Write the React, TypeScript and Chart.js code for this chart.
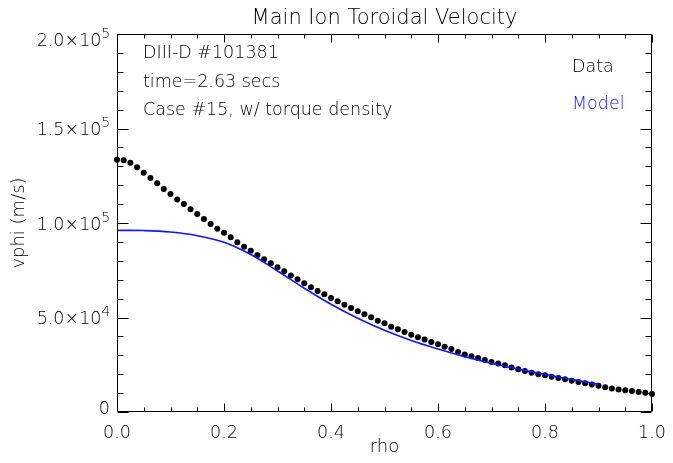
import React, { useEffect, useRef } from 'react';
import { Chart, registerables } from 'chart.js';

Chart.register(...registerables);

// ---------- data ----------
const RHO_DATA = [
  0, 0.0125, 0.025, 0.0375, 0.05, 0.0625, 0.075, 0.0875, 0.1, 0.1125,
  0.125, 0.1375, 0.15, 0.1625, 0.175, 0.1875, 0.2, 0.2125, 0.225, 0.2375,
  0.25, 0.2625, 0.275, 0.2875, 0.3, 0.3125, 0.325, 0.3375, 0.35, 0.3625,
  0.375, 0.3875, 0.4, 0.4125, 0.425, 0.4375, 0.45, 0.4625, 0.475, 0.4875,
  0.5, 0.5125, 0.525, 0.5375, 0.55, 0.5625, 0.575, 0.5875, 0.6, 0.6125,
  0.625, 0.6375, 0.65, 0.6625, 0.675, 0.6875, 0.7, 0.7125, 0.725, 0.7375,
  0.75, 0.7625, 0.775, 0.7875, 0.8, 0.8125, 0.825, 0.8375, 0.85, 0.8625,
  0.875, 0.8875, 0.9, 0.9125, 0.925, 0.9375, 0.95, 0.9625, 0.975, 0.9875,
  1.0,
];
const VPHI_DATA = [
  133500, 133200, 131900, 129500, 126600, 123800, 121000, 118000, 115300, 112500,
  110100, 107300, 104800, 102100, 99500, 97000, 94900, 92400, 89800, 87500,
  85300, 83100, 80800, 78700, 76600, 74500, 72200, 70200, 68100, 66000,
  64000, 62300, 60300, 58600, 56800, 55000, 53300, 51700, 50100, 48300,
  46900, 45100, 43800, 42300, 40900, 39500, 38300, 37000, 35800, 34500,
  33300, 31800, 30400, 29500, 28600, 27500, 26500, 25600, 24700, 23600,
  22600, 21700, 20800, 20000, 19400, 18700, 18000, 17300, 16600, 15900,
  15200, 14500, 13900, 13100, 12400, 11900, 11500, 11100, 10600, 10200,
  9500,
];
const RHO_MODEL = [0, 0.05, 0.1, 0.15, 0.2, 0.25, 0.3, 0.35, 0.4, 0.45, 0.5, 0.55, 0.6, 0.65, 0.7, 0.75, 0.8, 0.85, 0.9];
const VPHI_MODEL = [96100, 96000, 95200, 93300, 89800, 83300, 74600, 65500, 57000, 49600, 43200, 37800, 33300, 29300, 25800, 22700, 19800, 17200, 14700];

const X_TICKS = [0, 0.2, 0.4, 0.6, 0.8, 1.0];
const X_TICK_LABELS = ['0.0', '0.2', '0.4', '0.6', '0.8', '1.0'];
const X_MINOR_PER_MAJOR = 4;
const Y_TICKS = [0, 50000, 100000, 150000, 200000];
const Y_TICK_MANTISSA = ['0', '5.0×10', '1.0×10', '1.5×10', '2.0×10'];
const Y_TICK_EXPONENT = ['', '4', '5', '5', '5'];
const Y_MINOR_PER_MAJOR = 5;

const TITLE = 'Main Ion Toroidal Velocity';
const X_TITLE = 'rho';
const Y_TITLE = 'vphi (m/s)';
const INFO_LINES = ['DIII-D #101381', 'time=2.63 secs', 'Case #15, w/ torque density'];
const SERIES_NAMES = ['Data', 'Model'];

const FONT = '"DejaVu Sans", sans-serif';
const W = '200';
const TEXT = '#000';
const BLUE = '#1414ff';

const framePlugin = {
  id: 'idlFrame',
  afterDraw(chart: any) {
    const ctx: CanvasRenderingContext2D = chart.ctx;
    const { left, right, top, bottom } = chart.chartArea;
    const xs = chart.scales.x;
    const ys = chart.scales.y;
    const L = Math.round(left) + 0.5;
    const R = Math.round(right) - 0.5;
    const T = Math.round(top) + 0.5;
    const B = Math.round(bottom) - 0.5;
    ctx.save();
    ctx.strokeStyle = '#000';
    ctx.lineWidth = 1;
    ctx.beginPath();
    ctx.rect(L, T, R - L, B - T);
    ctx.stroke();

    // x ticks (bottom & top, inward)
    ctx.beginPath();
    for (let i = 0; i < X_TICKS.length; i++) {
      const v = X_TICKS[i];
      const px = Math.round(xs.getPixelForValue(v)) + 0.5;
      ctx.moveTo(px, B); ctx.lineTo(px, B - 8);
      ctx.moveTo(px, T); ctx.lineTo(px, T + 8);
      if (i < X_TICKS.length - 1) {
        const step = (X_TICKS[i + 1] - v) / X_MINOR_PER_MAJOR;
        for (let k = 1; k < X_MINOR_PER_MAJOR; k++) {
          const mx = Math.round(xs.getPixelForValue(v + k * step)) + 0.5;
          ctx.moveTo(mx, B); ctx.lineTo(mx, B - 4);
          ctx.moveTo(mx, T); ctx.lineTo(mx, T + 4);
        }
      }
    }
    // y ticks (left & right, inward)
    for (let i = 0; i < Y_TICKS.length; i++) {
      const v = Y_TICKS[i];
      const py = Math.round(ys.getPixelForValue(v)) + 0.5;
      ctx.moveTo(L, py); ctx.lineTo(L + 11, py);
      ctx.moveTo(R, py); ctx.lineTo(R - 11, py);
      if (i < Y_TICKS.length - 1) {
        const step = (Y_TICKS[i + 1] - v) / Y_MINOR_PER_MAJOR;
        for (let k = 1; k < Y_MINOR_PER_MAJOR; k++) {
          const my = Math.round(ys.getPixelForValue(v + k * step)) + 0.5;
          ctx.moveTo(L, my); ctx.lineTo(L + 6, my);
          ctx.moveTo(R, my); ctx.lineTo(R - 6, my);
        }
      }
    }
    ctx.stroke();

    ctx.fillStyle = TEXT;
    ctx.textBaseline = 'alphabetic';

    // x tick labels
    ctx.font = `${W} 17.5px ${FONT}`;
    ctx.textAlign = 'center';
    for (let i = 0; i < X_TICKS.length; i++) {
      const px = xs.getPixelForValue(X_TICKS[i]);
      ctx.fillText(X_TICK_LABELS[i], px, bottom + 26);
    }

    // y tick labels with superscript exponent
    const labelRight = left - 7;
    for (let i = 0; i < Y_TICKS.length; i++) {
      const py = ys.getPixelForValue(Y_TICKS[i]);
      let base = py + 6.5;
      if (i === 0) base = py + 1.5;
      if (i === Y_TICKS.length - 1) base = py + 12;
      const exp = Y_TICK_EXPONENT[i];
      ctx.font = `${W} 13.5px ${FONT}`;
      const ew = exp ? ctx.measureText(exp).width : 0;
      ctx.textAlign = 'left';
      if (exp) ctx.fillText(exp, labelRight - ew, base - 8);
      ctx.font = `${W} 17.5px ${FONT}`;
      ctx.textAlign = 'right';
      ctx.fillText(Y_TICK_MANTISSA[i], labelRight - ew, base);
    }

    // title
    ctx.font = `${W} 21px ${FONT}`;
    ctx.textAlign = 'center';
    ctx.fillText(TITLE, (left + right) / 2, 24);

    // axis titles
    ctx.font = `${W} 18px ${FONT}`;
    ctx.fillText(X_TITLE, (left + right) / 2, 452);
    ctx.save();
    ctx.translate(24, (top + bottom) / 2);
    ctx.rotate(-Math.PI / 2);
    ctx.textAlign = 'center';
    ctx.fillText(Y_TITLE, 0, 0);
    ctx.restore();

    // info text
    ctx.font = `${W} 17.5px ${FONT}`;
    ctx.textAlign = 'left';
    const infoBase = [58, 86.5, 115];
    for (let i = 0; i < INFO_LINES.length; i++) {
      ctx.fillText(INFO_LINES[i], left + 26, infoBase[i]);
    }

    // legend text
    ctx.fillStyle = TEXT;
    ctx.fillText(SERIES_NAMES[0], 572, 72);
    ctx.fillStyle = BLUE;
    ctx.fillText(SERIES_NAMES[1], 572, 109);
    ctx.restore();
  },
};

export default function App() {
  const ref = useRef<HTMLCanvasElement | null>(null);
  useEffect(() => {
    if (!ref.current) return;
    const chart = new Chart(ref.current, {
      type: 'scatter',
      data: {
        datasets: [
          {
            label: SERIES_NAMES[1],
            data: RHO_MODEL.map((r, i) => ({ x: r, y: VPHI_MODEL[i] })),
            showLine: true,
            borderColor: BLUE,
            borderWidth: 1.6,
            pointRadius: 0,
            tension: 0.4,
            clip: false as any,
          } as any,
          {
            label: SERIES_NAMES[0],
            data: RHO_DATA.map((r, i) => ({ x: r, y: VPHI_DATA[i] })),
            showLine: false,
            pointRadius: 3,
            pointBackgroundColor: '#000',
            pointBorderWidth: 0,
            backgroundColor: '#000',
            borderColor: '#000',
            clip: false as any,
          } as any,
        ],
      },
      options: {
        responsive: false,
        devicePixelRatio: 1,
        animation: false,
        events: [],
        layout: { padding: { top: 34, right: 21, left: 0, bottom: 0 } },
        plugins: { legend: { display: false }, tooltip: { enabled: false }, title: { display: false } },
        scales: {
          x: {
            type: 'linear',
            min: 0,
            max: 1,
            ticks: { display: false, stepSize: 0.2 },
            grid: { display: false, drawTicks: false },
            border: { display: false },
            afterFit: (s: any) => { s.height = 51; },
          },
          y: {
            type: 'linear',
            min: 0,
            max: 200000,
            ticks: { display: false, stepSize: 50000 },
            grid: { display: false, drawTicks: false },
            border: { display: false },
            afterFit: (s: any) => { s.width = 117; },
          },
        },
      } as any,
      plugins: [framePlugin],
    });
    return () => chart.destroy();
  }, []);
  return (
    <div style={{ position: 'absolute', left: 0, top: 0, width: 673, height: 463, background: '#fff' }}>
      <canvas ref={ref} width={673} height={463} style={{ width: 673, height: 463 }} />
    </div>
  );
}
